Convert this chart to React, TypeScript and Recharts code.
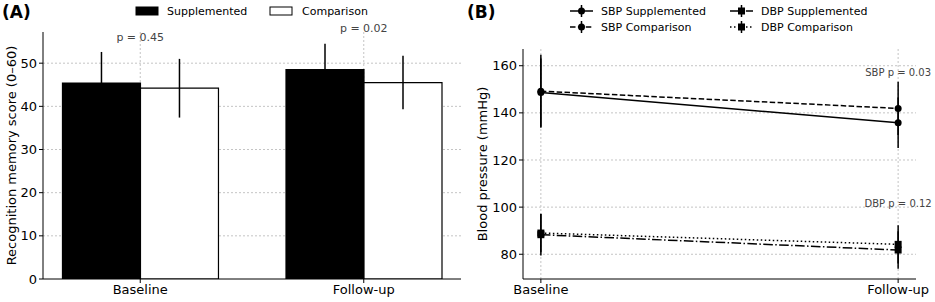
import {
  Bar,
  BarChart,
  CartesianGrid,
  ErrorBar,
  Line,
  LineChart,
  ReferenceDot,
  XAxis,
  YAxis,
} from "recharts";

// shared categories (x = 0, 1)
const timepoints = ["Baseline", "Follow-up"];

// panel A: recognition memory score
const memSupp = [45.4, 48.5];
const memSuppSd = [7.2, 6.0];
const memComp = [44.2, 45.5];
const memCompSd = [6.8, 6.2];
const memP = ["p = 0.45", "p = 0.02"];
const memTicks = [0, 10, 20, 30, 40, 50];

// panel B: blood pressure
const sbpSupp = [148.6, 135.8];
const sbpSuppSd = [14.5, 10.7];
const sbpComp = [149.2, 141.9];
const sbpCompSd = [15.5, 11.3];
const dbpSupp = [88.3, 81.8];
const dbpSuppSd = [8.8, 8.0];
const dbpComp = [89.0, 84.2];
const dbpCompSd = [8.2, 8.1];
const bpTicks = [80, 100, 120, 140, 160];
const bpNotes = [
  { label: "SBP p = 0.03", y: 156.2 },
  { label: "DBP p = 0.12", y: 100.5 },
];

const memData = timepoints.map((_, i) => ({
  x: i,
  supp: memSupp[i],
  suppSd: memSuppSd[i],
  comp: memComp[i],
  compSd: memCompSd[i],
}));

const bpData = timepoints.map((_, i) => ({
  x: i,
  sbpSupp: sbpSupp[i],
  sbpSuppSd: sbpSuppSd[i],
  sbpComp: sbpComp[i],
  sbpCompSd: sbpCompSd[i],
  dbpSupp: dbpSupp[i],
  dbpSuppSd: dbpSuppSd[i],
  dbpComp: dbpComp[i],
  dbpCompSd: dbpCompSd[i],
}));

const font = "'DejaVu Sans', sans-serif";
const gridStroke = "#c4c4c4";
const noteFill = "#444";
const tick = { fontSize: 13, fill: "#000" };

const dashes = {
  solid: undefined,
  dashed: "5.5 2.4",
  dashdot: "9.6 2.4 1.5 2.4",
  dotted: "1.5 2.5",
};

const fmtTime = (v: number) => timepoints[v] ?? "";

function Square(props: any) {
  const { cx, cy, index } = props;
  if (cx == null || cy == null) return null;
  return <rect key={index} x={cx - 3.5} y={cy - 3.5} width={7} height={7} fill="#000" />;
}

function Circle(props: any) {
  const { cx, cy, index } = props;
  if (cx == null || cy == null) return null;
  return <circle key={index} cx={cx} cy={cy} r={3.5} fill="#000" />;
}

function YTitle({ text, cx }: { text: string; cx: number }) {
  return (props: any) => {
    const vb = props.viewBox;
    const cy = vb.y + vb.height / 2;
    return (
      <text
        x={cx}
        y={cy}
        transform={`rotate(-90 ${cx} ${cy})`}
        textAnchor="middle"
        dominantBaseline="central"
        fontSize={13}
        fill="#000"
      >
        {text}
      </text>
    );
  };
}

function PanelA() {
  const top = Math.max(...memSupp.map((v, i) => v + memSuppSd[i]), ...memComp.map((v, i) => v + memCompSd[i]));
  return (
    <BarChart
      width={465}
      height={302}
      data={memData}
      margin={{ top: 32, right: 4, bottom: 0, left: 0 }}
      barGap={0}
    >
      <XAxis
        dataKey="x"
        type="number"
        domain={[-0.435, 1.435]}
        ticks={[0, 1]}
        allowDataOverflow
        tickFormatter={fmtTime}
        height={23}
        tick={tick}
        tickSize={4}
        stroke="#000"
      />
      <YAxis
        type="number"
        domain={[0, top * 1.05]}
        ticks={memTicks}
        allowDataOverflow
        width={43}
        tick={tick}
        tickSize={4}
        stroke="#000"
        label={{ content: YTitle({ text: "Recognition memory score (0–60)", cx: 11 }) }}
      />
      <Bar dataKey="supp" barSize={78} fill="#000" stroke="#000" strokeWidth={1.2} isAnimationActive={false}>
        <ErrorBar dataKey="suppSd" width={0} stroke="#000" strokeWidth={1.5} />
      </Bar>
      <Bar dataKey="comp" barSize={78} fill="#fff" stroke="#000" strokeWidth={1.2} isAnimationActive={false}>
        <ErrorBar dataKey="compSd" width={0} stroke="#000" strokeWidth={1.5} />
      </Bar>
      <CartesianGrid
        stroke={gridStroke}
        strokeDasharray="2 2"
        horizontalValues={memTicks.slice(1)}
        verticalValues={[0, 1]}
      />
      {memP.map((p, i) => (
        <ReferenceDot
          key={p}
          x={i}
          y={Math.max(memSupp[i] + memSuppSd[i], memComp[i] + memCompSd[i]) + 3}
          r={0}
          ifOverflow="visible"
          label={{ value: p, position: "top", offset: -1.5, fontSize: 11, fill: noteFill }}
        />
      ))}
    </BarChart>
  );
}

function PanelB() {
  return (
    <LineChart
      width={470}
      height={302}
      data={bpData}
      margin={{ top: 49, right: 19, bottom: 0, left: 0 }}
    >
      <CartesianGrid
        stroke={gridStroke}
        strokeDasharray="2 2"
        horizontalValues={bpTicks}
        verticalValues={[0, 1]}
      />
      <XAxis
        dataKey="x"
        type="number"
        domain={[-0.05, 1.05]}
        ticks={[0, 1]}
        allowDataOverflow
        tickFormatter={fmtTime}
        height={23}
        tick={tick}
        tickSize={4}
        stroke="#000"
      />
      <YAxis
        type="number"
        domain={[69.5, 167.1]}
        ticks={bpTicks}
        allowDataOverflow
        width={58}
        tick={tick}
        tickSize={4}
        stroke="#000"
        label={{ content: YTitle({ text: "Blood pressure (mmHg)", cx: 17.5 }) }}
      />
      <Line dataKey="sbpSupp" stroke="#000" strokeWidth={1.5} dot={Circle} activeDot={false} isAnimationActive={false}>
        <ErrorBar dataKey="sbpSuppSd" width={0} stroke="#000" strokeWidth={1.5} />
      </Line>
      <Line dataKey="sbpComp" stroke="#000" strokeWidth={1.5} strokeDasharray={dashes.dashed} dot={Circle} activeDot={false} isAnimationActive={false}>
        <ErrorBar dataKey="sbpCompSd" width={0} stroke="#000" strokeWidth={1.5} />
      </Line>
      <Line dataKey="dbpSupp" stroke="#000" strokeWidth={1.5} strokeDasharray={dashes.dashdot} dot={Square} activeDot={false} isAnimationActive={false}>
        <ErrorBar dataKey="dbpSuppSd" width={0} stroke="#000" strokeWidth={1.5} />
      </Line>
      <Line dataKey="dbpComp" stroke="#000" strokeWidth={1.5} strokeDasharray={dashes.dotted} dot={Square} activeDot={false} isAnimationActive={false}>
        <ErrorBar dataKey="dbpCompSd" width={0} stroke="#000" strokeWidth={1.5} />
      </Line>
      {bpNotes.map((n) => (
        <ReferenceDot
          key={n.label}
          x={1}
          y={n.y}
          r={0}
          ifOverflow="visible"
          label={{ value: n.label, position: "top", offset: -1, fontSize: 10, fill: noteFill }}
        />
      ))}
    </LineChart>
  );
}

const bpLegend = [
  { name: "SBP Supplemented", dash: dashes.solid, marker: "o", x: 570, y: 11 },
  { name: "SBP Comparison", dash: dashes.dashed, marker: "o", x: 570, y: 27 },
  { name: "DBP Supplemented", dash: dashes.dashdot, marker: "s", x: 730, y: 11 },
  { name: "DBP Comparison", dash: dashes.dotted, marker: "s", x: 730, y: 27 },
];

function Overlay() {
  return (
    <svg
      width={935}
      height={302}
      style={{ position: "absolute", left: 0, top: 0, pointerEvents: "none" }}
    >
      <text x={2} y={17.5} fontSize={17} fontWeight="bold" fill="#000">(A)</text>
      <text x={467} y={17.5} fontSize={17} fontWeight="bold" fill="#000">(B)</text>

      <rect x={136} y={7} width={22} height={8} fill="#000" stroke="#000" />
      <text x={167} y={15} fontSize={11} fill="#000">Supplemented</text>
      <rect x={270} y={7} width={22} height={8} fill="#fff" stroke="#000" />
      <text x={302} y={15} fontSize={11} fill="#000">Comparison</text>

      {bpLegend.map((l) => (
        <g key={l.name}>
          <line x1={l.x} x2={l.x + 23} y1={l.y} y2={l.y} stroke="#000" strokeWidth={1.5} strokeDasharray={l.dash} />
          <line x1={l.x + 11.5} x2={l.x + 11.5} y1={l.y - 6} y2={l.y + 6} stroke="#000" strokeWidth={1.5} />
          {l.marker === "o" ? (
            <circle cx={l.x + 11.5} cy={l.y} r={3.5} fill="#000" />
          ) : (
            <rect x={l.x + 8} y={l.y - 3.5} width={7} height={7} fill="#000" />
          )}
          <text x={l.x + 31} y={l.y + 4} fontSize={11} fill="#000">{l.name}</text>
        </g>
      ))}
    </svg>
  );
}

export default function App() {
  return (
    <div
      style={{
        position: "absolute",
        left: 0,
        top: 0,
        width: 935,
        height: 302,
        background: "#fff",
        fontFamily: font,
      }}
    >
      <div style={{ position: "absolute", left: 0, top: 0 }}>
        <PanelA />
      </div>
      <div style={{ position: "absolute", left: 465, top: 0 }}>
        <PanelB />
      </div>
      <Overlay />
    </div>
  );
}
